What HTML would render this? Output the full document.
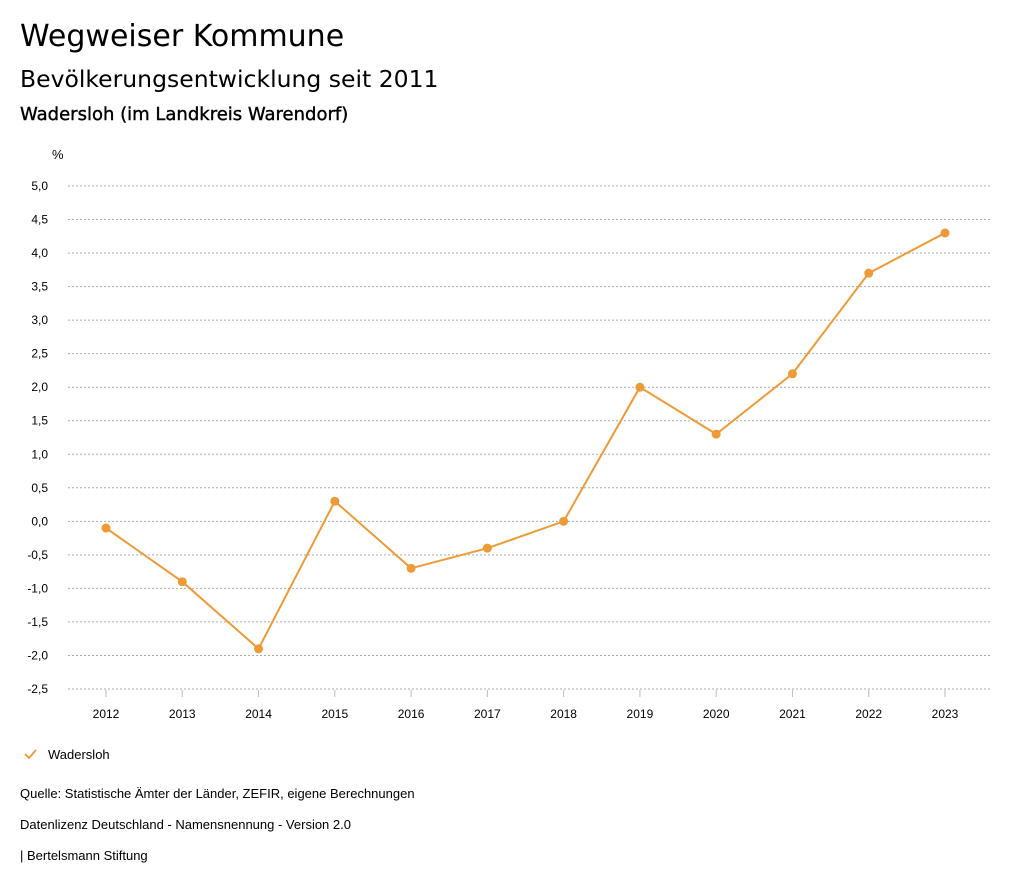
<!DOCTYPE html>
<html><head><meta charset="utf-8">
<style>
body{margin:0;width:1024px;height:888px;background:#fff;font-family:"Liberation Sans","DejaVu Sans",sans-serif;color:#000;overflow:hidden}
.t{position:absolute;white-space:nowrap}
</style></head><body>
<div class="t" style="left:20px;top:19px;font-size:30px;font-family:'DejaVu Sans',sans-serif">Wegweiser Kommune</div>
<div class="t" style="left:20px;top:65px;font-size:23.5px;font-family:'DejaVu Sans',sans-serif">Bevölkerungsentwicklung seit 2011</div>
<div class="t" style="left:20px;top:104px;font-size:18px;font-family:'DejaVu Sans',sans-serif;-webkit-text-stroke:0.4px #000">Wadersloh (im Landkreis Warendorf)</div>
<svg id="chart" width="1024" height="888" style="position:absolute;left:0;top:0"></svg>
<div class="t" style="left:20px;top:786px;font-size:13px">Quelle: Statistische Ämter der Länder, ZEFIR, eigene Berechnungen</div>
<div class="t" style="left:20px;top:817px;font-size:13px">Datenlizenz Deutschland - Namensnennung - Version 2.0</div>
<div class="t" style="left:20px;top:848px;font-size:13px">| Bertelsmann Stiftung</div>
<script>
const years=["2012","2013","2014","2015","2016","2017","2018","2019","2020","2021","2022","2023"];
const values=[-0.1,-0.9,-1.9,0.3,-0.7,-0.4,0.0,2.0,1.3,2.2,3.7,4.3];
const yTicks=[5.0,4.5,4.0,3.5,3.0,2.5,2.0,1.5,1.0,0.5,0.0,-0.5,-1.0,-1.5,-2.0,-2.5];
const svg=document.getElementById('chart');const NS='http://www.w3.org/2000/svg';
const yMin=-2.5,yMax=5.0,plotTop=186,plotBot=689,gx0=68,gx1=990,x0=106,x1=945;
const yS=v=>plotBot-(v-yMin)/(yMax-yMin)*(plotBot-plotTop);
const xS=i=>x0+i*(x1-x0)/(years.length-1);
function mk(t,a){const e=document.createElementNS(NS,t);for(const k in a)e.setAttribute(k,a[k]);svg.appendChild(e);return e;}
const pu=mk('text',{x:52,y:159,'font-size':13,'font-family':'Liberation Sans,sans-serif'});pu.textContent='%';


yTicks.forEach(v=>{
 const l=mk('line',{x1:gx0,x2:gx1,y1:yS(v),y2:yS(v),stroke:'#aaa','stroke-dasharray':'2,2','stroke-width':1});
 
 
 const t=mk('text',{x:48,y:yS(v)+4,'text-anchor':'end','font-size':12,'font-family':'Liberation Sans,sans-serif'});
 t.textContent=v.toFixed(1).replace('.',',');
 
 
});
years.forEach((yr,i)=>{
 const tk=mk('line',{x1:xS(i),x2:xS(i),y1:plotBot+1,y2:plotBot+8,stroke:'#bbb'});
 
 
 const t=mk('text',{x:xS(i),y:718,'text-anchor':'middle','font-size':12,'font-family':'Liberation Sans,sans-serif'});
 t.textContent=yr;
 
 
});
const p=mk('polyline',{points:values.map((v,i)=>xS(i)+','+yS(v)).join(' '),fill:'none',stroke:'#ee9a37','stroke-width':2});


values.forEach((v,i)=>{
 const c=mk('circle',{cx:xS(i),cy:yS(v),r:4.5,fill:'#ee9a37'});
 
 
});
const chk=mk('polyline',{points:'25,754 29,758 36,750',fill:'none',stroke:'#ee9a37','stroke-width':1.8});


const lt=mk('text',{x:48,y:759,'font-size':13,'font-family':'Liberation Sans,sans-serif'});lt.textContent='Wadersloh';


</script>
</body></html>
